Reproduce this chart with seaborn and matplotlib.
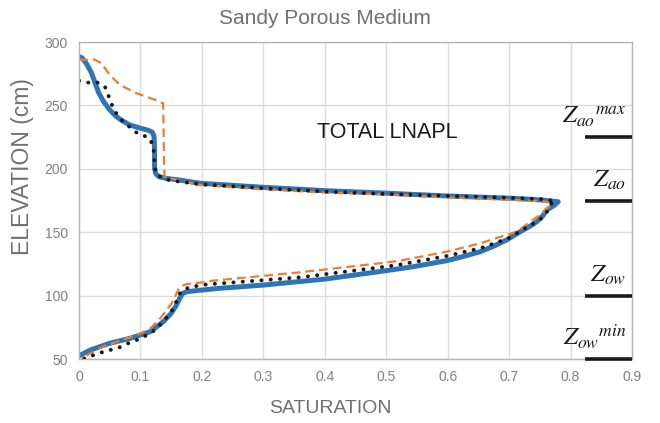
import matplotlib
matplotlib.use("Agg")
import matplotlib.pyplot as plt
import seaborn as sns

# Données (saturation, élévation en cm)
blue_sat = [0.0, 0.005, 0.012, 0.02, 0.026, 0.032, 0.04, 0.05, 0.06, 0.07, 0.083, 0.10,
            0.112, 0.119, 0.122, 0.123, 0.123, 0.125, 0.13, 0.14, 0.165, 0.197, 0.30, 0.403,
            0.49, 0.598, 0.707, 0.75, 0.78, 0.773, 0.761, 0.755, 0.745, 0.735, 0.718, 0.696,
            0.675, 0.653, 0.625, 0.598, 0.544, 0.49, 0.40, 0.30, 0.23, 0.19, 0.175, 0.168,
            0.163, 0.158, 0.150, 0.137, 0.116, 0.083, 0.05, 0.018, 0.0]
blue_elev = [288.5, 287.5, 283.0, 276.0, 268.0, 260.0, 253.0, 246.5, 241.5, 238.0, 234.5, 232.0,
             230.5, 229.0, 226.0, 215.0, 200.0, 196.0, 193.8, 192.6, 191.0, 188.6, 185.4, 182.7,
             181.0, 178.6, 176.7, 175.5, 174.0, 171.0, 167.5, 163.0, 158.3, 155.0, 150.4, 143.9,
             139.0, 134.6, 130.8, 127.5, 122.8, 119.0, 113.0, 108.3, 105.8, 103.9, 103.0, 101.5,
             97.0, 92.0, 86.0, 79.4, 71.5, 66.3, 62.4, 57.0, 52.5]

orange_sat = [0.0, 0.026, 0.037, 0.05, 0.067, 0.094, 0.126, 0.137, 0.138, 0.139, 0.148, 0.197,
              0.30, 0.403, 0.49, 0.598, 0.734, 0.765, 0.769, 0.75, 0.712, 0.653, 0.598, 0.522,
              0.49, 0.36, 0.219, 0.197, 0.175, 0.164, 0.151, 0.132, 0.116, 0.094, 0.04, 0.004]
orange_elev = [286.0, 286.0, 283.0, 274.0, 266.0, 259.5, 254.0, 251.6, 220.0, 194.0, 192.5, 187.2,
               183.8, 181.2, 179.9, 177.5, 174.9, 174.0, 172.2, 163.6, 150.4, 141.2, 134.6, 127.5,
               125.5, 118.4, 111.8, 110.2, 109.0, 107.0, 94.0, 82.0, 74.0, 68.9, 60.0, 50.5]

black_sat = [0.0, 0.015, 0.03, 0.042, 0.047, 0.052, 0.059, 0.068, 0.08, 0.092, 0.106, 0.114,
             0.121, 0.122, 0.123, 0.125, 0.138, 0.151, 0.197, 0.30, 0.403, 0.49, 0.598, 0.68,
             0.761, 0.775, 0.769, 0.764, 0.75, 0.726, 0.699, 0.653, 0.598, 0.517, 0.49, 0.36,
             0.224, 0.209, 0.194, 0.178, 0.165, 0.159, 0.152, 0.143, 0.133, 0.121, 0.107, 0.094,
             0.08, 0.065, 0.05, 0.035, 0.021, 0.006]
black_elev = [269.5, 268.0, 268.0, 265.0, 259.0, 252.0, 245.0, 239.0, 234.0, 229.0, 226.0, 224.5,
              218.0, 211.0, 205.0, 196.0, 192.0, 190.7, 187.8, 184.7, 182.0, 180.3, 178.6, 177.5,
              175.9, 174.0, 172.8, 167.5, 159.6, 153.1, 145.2, 137.3, 131.2, 124.0, 122.3, 114.4,
              109.4, 108.9, 107.8, 106.3, 102.6, 95.8, 88.7, 82.9, 77.4, 72.0, 68.0, 65.0,
              62.4, 59.0, 57.0, 55.0, 52.6, 50.0]

# Niveaux repères à droite
z_levels = [225, 175, 100, 50]
z_labels = [r"${Z_{ao}}^{max}$", r"$Z_{ao}$", r"$Z_{ow}$", r"${Z_{ow}}^{min}$"]

x_ticks = [0, 0.1, 0.2, 0.3, 0.4, 0.5, 0.6, 0.7, 0.8, 0.9]
x_tick_labels = ["0", "0.1", "0.2", "0.3", "0.4", "0.5", "0.6", "0.7", "0.8", "0.9"]
y_ticks = [50, 100, 150, 200, 250, 300]

sns.set_theme(style="whitegrid")
plt.rcParams["font.family"] = ["Liberation Sans", "DejaVu Sans"]
plt.rcParams["mathtext.fontset"] = "stix"

fig = plt.figure(figsize=(6.6, 4.23), dpi=100)
ax = fig.add_axes([79 / 660, 1 - 359 / 423, 553 / 660, 317 / 423])

sns.lineplot(x=blue_sat, y=blue_elev, sort=False, estimator=None, color="#2E75B6",
             linewidth=3.6, solid_capstyle="round", solid_joinstyle="round", ax=ax)
sns.lineplot(x=orange_sat, y=orange_elev, sort=False, estimator=None, color="#ED7D31",
             linewidth=1.6, linestyle=(0, (4, 2.2)), ax=ax)
sns.lineplot(x=black_sat, y=black_elev, sort=False, estimator=None, color="#1a1a1a",
             linewidth=2.8, linestyle=(0, (0.05, 2.35)), dash_capstyle="round", ax=ax)

for z, lab in zip(z_levels, z_labels):
    ax.hlines(z, 0.823, 0.9, color="#1a1a1a", linewidth=2.6, clip_on=False, zorder=6)
    ax.annotate(lab, xy=(0.891, z), xytext=(0, 6), textcoords="offset points",
                ha="right", va="bottom", fontsize=18, color="#1a1a1a")

ax.text(0.501, 229, "TOTAL LNAPL", ha="center", va="center", fontsize=15.5, color="#1a1a1a")

ax.set_xlim(0, 0.9)
ax.set_ylim(50, 300)
ax.set_xticks(x_ticks)
ax.set_xticklabels(x_tick_labels)
ax.set_yticks(y_ticks)
ax.tick_params(axis="both", labelsize=10, colors="#808080", length=0, pad=8)
ax.grid(True, color="#dcdcdc", linewidth=1)
for sp in ax.spines.values():
    sp.set_color("#b4b4b4")
    sp.set_linewidth(1)

ax.set_xlabel("SATURATION", fontsize=14, color="#707070")
ax.xaxis.set_label_coords((330 - 79) / 553, -(400 - 359) / 317)
ax.set_ylabel("ELEVATION (cm)", fontsize=16.5, color="#707070")
ax.yaxis.set_label_coords(-(79 - 34) / 553, (359 - 167) / 317)

fig.text(325 / 660, 1 - 18 / 423, "Sandy Porous Medium", ha="center", va="center",
         fontsize=15, color="#707070")

plt.savefig("out.png", dpi=100)
